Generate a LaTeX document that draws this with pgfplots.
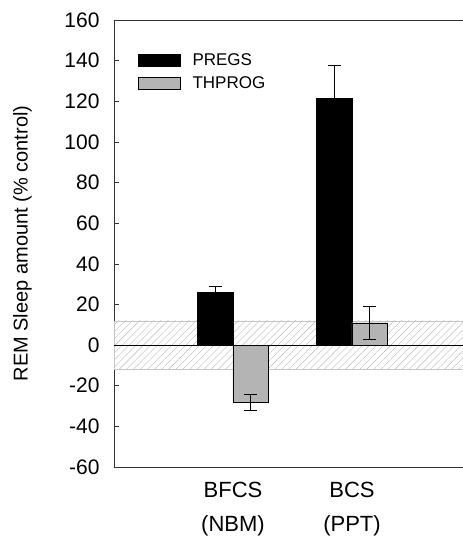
\documentclass[border=0pt]{standalone}
\usepackage{pgfplots}
\pgfplotsset{compat=1.18}
\usepackage{fontspec}
\setmainfont{Liberation Sans}
\usetikzlibrary{patterns.meta}
\definecolor{thgray}{RGB}{180,180,180}

\begin{document}
\begin{tikzpicture}
\useasboundingbox (-114pt,20pt) rectangle (349pt,-518pt);
\begin{axis}[
  at={(0,0)}, anchor=north west,
  width=349pt, height=447pt, scale only axis,
  xmin=-1, xmax=1.933, ymin=-60, ymax=160,
  ytick={-60,-40,...,160},
  xtick={0,1}, xticklabels={{BFCS\\(NBM)},{BCS\\(PPT)}},
  xticklabel style={align=center, font=\fontsize{22}{34}\selectfont, yshift=-12pt},
  x tick style={draw=none},
  axis x line=box, axis y line*=left,
  axis line style={line width=0.8pt, black!80},
  tick align=inside, major tick length=5pt,
  y tick style={line width=0.6pt, black!80},
  yticklabel style={font=\fontsize{21}{24}\selectfont, xshift=-11pt},
  /pgf/number format/assume math mode=true,
  ylabel={REM Sleep amount (\% control)},
  ylabel style={font=\fontsize{20}{24}\selectfont,
    at={(axis description cs:-0.262,0.5)}, anchor=center},
  legend image code/.code={\draw[#1, draw=black] (0pt,-6pt) rectangle (42pt,6pt);
    \path (52pt,0pt);},
  legend style={at={(axis description cs:0.06,0.935)}, anchor=north west, draw=none, fill=none,
    font=\fontsize{17}{20}\selectfont, row sep=6pt},
  legend cell align=left,
]
% hatched band +-12
\addplot[forget plot, sharp plot, draw=gray!45, line width=0.4pt,
  pattern={Lines[angle=45,distance=5pt,line width=0.4pt]}, pattern color=gray!55]
  coordinates {(-1,-12) (1.933,-12) (1.933,12) (-1,12)} -- cycle;
% zero line
\addplot[forget plot, sharp plot, black, line width=0.8pt]
  coordinates {(-1,0) (1.933,0)};

\addplot[ybar, bar width=0.3, bar shift=0, fill=black, draw=black,
  error bars/.cd, y dir=both, y explicit,
  error bar style={line width=0.7pt, black},
  error mark options={rotate=90, mark size=6.5pt, line width=0.7pt, black}]
  coordinates {(-0.15,26) +- (0,3) (0.85,121.5) +- (0,16)};
\addlegendentry{PREGS}

\addplot[ybar, bar width=0.3, bar shift=0, fill=thgray, draw=black,
  error bars/.cd, y dir=both, y explicit,
  error bar style={line width=0.7pt, black},
  error mark options={rotate=90, mark size=6.5pt, line width=0.7pt, black}]
  coordinates {(0.15,-28) +- (0,4) (1.15,11) +- (0,8)};
\addlegendentry{THPROG}
\end{axis}
\end{tikzpicture}
\end{document}
